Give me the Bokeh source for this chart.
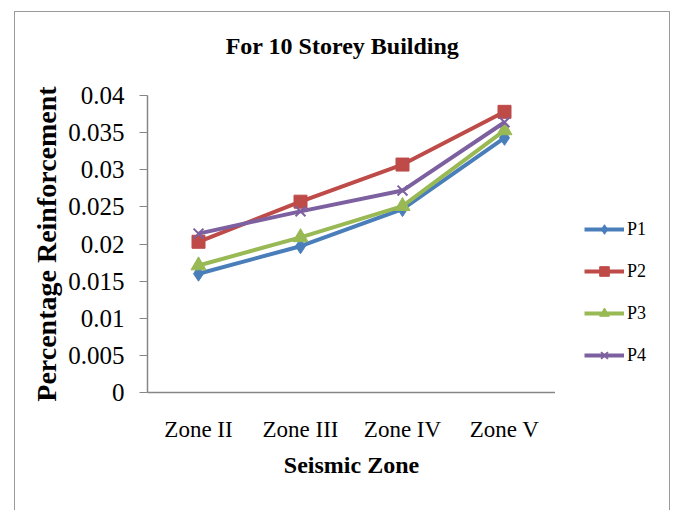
from bokeh.plotting import figure
from bokeh.models import (Range1d, FactorRange, FixedTicker, Legend, LegendItem,
                          ColumnDataSource, Spacer)
from bokeh.layouts import row, column
from bokeh.embed import file_html
from bokeh.resources import INLINE

zones = ["Zone II", "Zone III", "Zone IV", "Zone V"]
P1 = [0.0160, 0.0197, 0.0247, 0.0343]
P2 = [0.0203, 0.0257, 0.0307, 0.0378]
P3 = [0.0171, 0.0209, 0.0251, 0.0353]
P4 = [0.0214, 0.0244, 0.0272, 0.0364]
y_ticks = [0, 0.005, 0.01, 0.015, 0.02, 0.025, 0.03, 0.035, 0.04]
y_tick_labels = ["0", "0.005", "0.01", "0.015", "0.02", "0.025", "0.03", "0.035", "0.04"]
series_names = ["P1", "P2", "P3", "P4"]
colors = ["#4A7EBB", "#BE4B48", "#98B954", "#7D60A0"]
markers = ["diamond", "square", "triangle", "x"]
marker_sizes = [15, 13, 15, 14]
title_text = "For 10 Storey Building"

FONT = "Liberation Serif"


def bare(fig):
    fig.outline_line_color = None
    fig.xgrid.grid_line_color = None
    fig.ygrid.grid_line_color = None
    fig.border_fill_color = "white"
    fig.background_fill_color = "white"


# title strip
tf = figure(width=654, height=70, x_range=FactorRange(*zones), y_range=Range1d(0, 1),
            output_backend="svg", toolbar_location=None,
            x_axis_location=None, y_axis_location=None, title=title_text,
            min_border_left=0, min_border_right=0, min_border_top=0, min_border_bottom=0)
bare(tf)
tf.title.text_font = FONT
tf.title.text_font_size = "24px"
tf.title.text_font_style = "bold"
tf.title.align = "center"
tf.title.standoff = 37
tf.title.text_color = "black"

p = figure(width=540, height=428, x_range=FactorRange(*zones, range_padding=0),
           y_range=Range1d(0, 0.04), output_backend="svg", toolbar_location=None,
           min_border_left=132, min_border_right=0, min_border_top=13,
           min_border_bottom=118)
bare(p)

yax = p.yaxis[0]
yax.ticker = FixedTicker(ticks=y_ticks)
yax.major_label_overrides = {t: l for t, l in zip(y_ticks, y_tick_labels)}
yax.major_label_text_font = FONT
yax.major_label_text_font_size = "25px"
yax.major_label_text_color = "black"
yax.major_label_standoff = 15
yax.major_tick_out = 8
yax.major_tick_in = 0
yax.minor_tick_out = 0
yax.minor_tick_in = 0
yax.axis_line_color = "#868686"
yax.major_tick_line_color = "#868686"
yax.axis_line_width = 1.5
yax.axis_label = "Percentage Reinforcement"
yax.axis_label_text_font = FONT
yax.axis_label_text_font_size = "28px"
yax.axis_label_text_font_style = "bold"
yax.axis_label_text_color = "black"
yax.axis_label_standoff = 3

xax = p.xaxis[0]
xax.major_label_text_font = FONT
xax.major_label_text_font_size = "23px"
xax.major_label_text_color = "black"
xax.major_label_standoff = 24
xax.major_tick_out = 0
xax.major_tick_in = 0
xax.axis_line_color = "#868686"
xax.axis_line_width = 1.5
xax.axis_label = "Seismic Zone"
xax.axis_label_text_font = FONT
xax.axis_label_text_font_size = "24px"
xax.axis_label_text_font_style = "bold"
xax.axis_label_text_color = "black"
xax.axis_label_standoff = 7

# legend strip (series drawn outside its visible range, used only for legend keys)
lf = figure(width=114, height=428, x_range=FactorRange(*zones), y_range=Range1d(1, 2),
            output_backend="svg", toolbar_location=None,
            x_axis_location=None, y_axis_location=None,
            min_border_left=0, min_border_right=0, min_border_top=0, min_border_bottom=0)
bare(lf)

items = []
for name, vals, c, m, s in zip(series_names, [P1, P2, P3, P4], colors, markers, marker_sizes):
    src = ColumnDataSource(dict(x=zones, y=vals))
    p.line("x", "y", source=src, line_color=c, line_width=4, line_join="round")
    p.scatter("x", "y", source=src, marker=m, size=s, fill_color=c,
              line_color=c, line_width=2 if m == "x" else 1)
    ln = lf.line("x", "y", source=src, line_color=c, line_width=4, line_join="round")
    sc = lf.scatter("x", "y", source=src, marker=m, size=s, fill_color=c,
                    line_color=c, line_width=2 if m == "x" else 1)
    items.append(LegendItem(label=name, renderers=[ln, sc]))

legend = Legend(items=items, location=(29, 25), orientation="vertical",
                glyph_width=40, glyph_height=24, label_height=24, spacing=18,
                padding=0, margin=0, label_standoff=3,
                label_text_font=FONT, label_text_font_size="18px",
                label_text_color="black", border_line_color=None,
                background_fill_alpha=0)
lf.add_layout(legend, "center")

box = column(tf, row(p, lf, spacing=0), spacing=0,
             styles={"outline": "1.5px solid #9a9a9a", "background-color": "white"})
root = column(Spacer(width=673, height=12),
              row(Spacer(width=15, height=498), box, spacing=0), spacing=0)

open("out.html", "w").write(file_html(root, INLINE))
